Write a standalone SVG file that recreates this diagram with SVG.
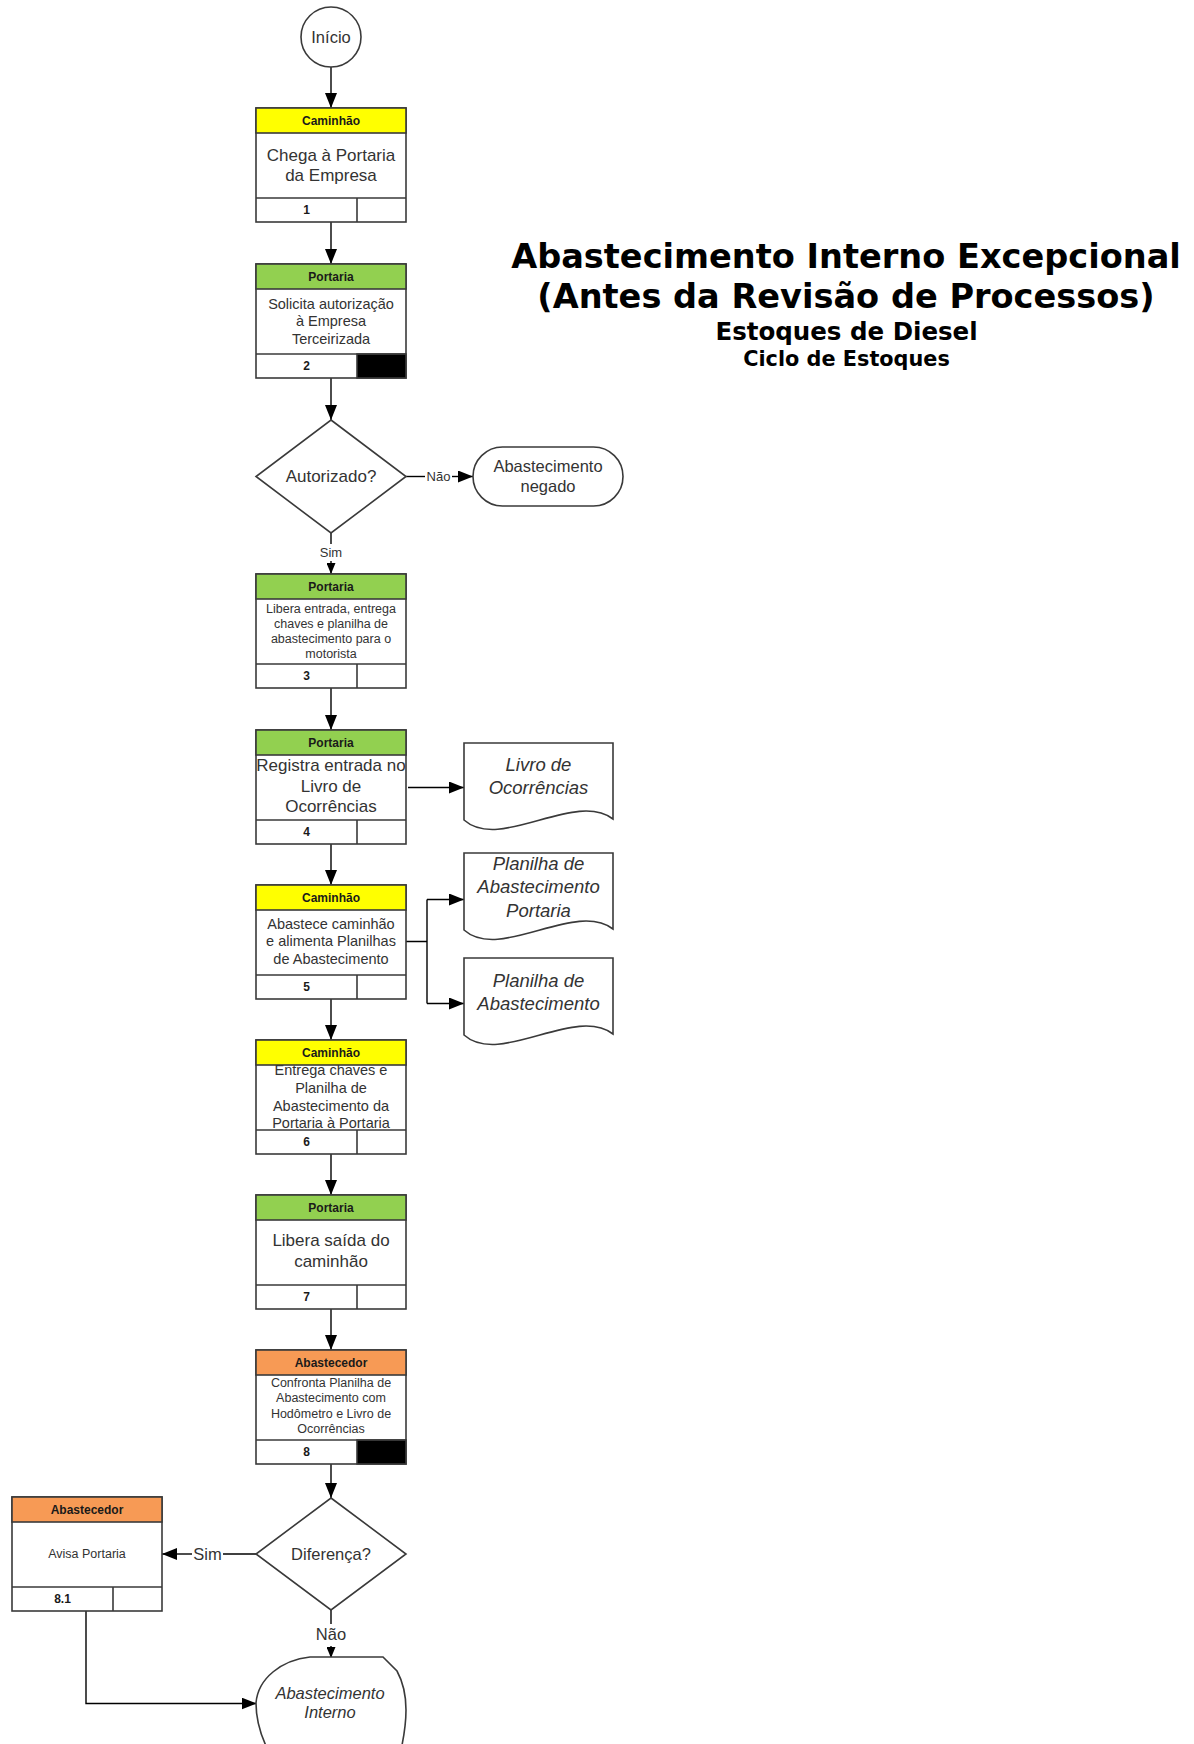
<svg xmlns="http://www.w3.org/2000/svg" width="1194" height="1744" viewBox="0 0 1194 1744">
<defs>
<style>
text{font-family:"Liberation Sans",Arial,sans-serif;fill:#333;text-anchor:middle;dominant-baseline:central}
.box{fill:#fff;stroke:#3a3a3a;stroke-width:1.6}
.hy{fill:#FFFF00;stroke:#3a3a3a;stroke-width:1.6}
.hg{fill:#92D050;stroke:#3a3a3a;stroke-width:1.6}
.ho{fill:#F79A55;stroke:#3a3a3a;stroke-width:1.6}
.ln{stroke:#3a3a3a;stroke-width:1.6;fill:none}
.blk{fill:#000;stroke:#3a3a3a;stroke-width:1.6}
.ht{font-weight:bold;font-size:12px;fill:#1a1a1a}
.num{font-weight:bold;font-size:12px;fill:#1a1a1a}
.t17{font-size:17px}
.t165{font-size:16.5px}
.t145{font-size:14.5px}
.t125{font-size:12.5px}
.doc{font-size:18.5px;font-style:italic}
.lbl{font-size:13px}
.lbl2{font-size:16.5px}
.con{stroke:#000;stroke-width:1.4;fill:none}
.arr{marker-end:url(#a)}
.arrs{marker-end:url(#s)}
.title{font-family:"DejaVu Sans",Verdana,sans-serif;font-weight:bold;fill:#000}
</style>
<marker id="a" viewBox="0 0 15 12" markerWidth="15" markerHeight="12" refX="15" refY="6" orient="auto" markerUnits="userSpaceOnUse"><path d="M0,0 L15,6 L0,12 Z" fill="#000"/></marker>
<marker id="s" viewBox="0 0 11 9" markerWidth="11" markerHeight="9" refX="11" refY="4.5" orient="auto" markerUnits="userSpaceOnUse"><path d="M0,0 L11,4.5 L0,9 Z" fill="#000"/></marker>
</defs>
<rect width="1194" height="1744" fill="#fff"/>

<g id="title">
<text class="title" x="846" y="256" font-size="33.6">Abastecimento Interno Excepcional</text>
<text class="title" x="846" y="296" font-size="33.6">(Antes da Revisão de Processos)</text>
<text class="title" x="846.5" y="331" font-size="24.5">Estoques de Diesel</text>
<text class="title" x="846.5" y="359" font-size="20.8">Ciclo de Estoques</text>
</g>

<g id="connectors">
<line class="con arr" x1="331" y1="67" x2="331" y2="108"/>
<line class="con arr" x1="331" y1="222" x2="331" y2="264"/>
<line class="con arr" x1="331" y1="378" x2="331" y2="420"/>
<line class="con" x1="405.5" y1="476.5" x2="425" y2="476.5"/>
<text class="lbl" x="438.5" y="476.5">Não</text>
<line class="con arr" x1="452" y1="476.5" x2="473" y2="476.5"/>
<line class="con" x1="331" y1="533" x2="331" y2="544"/>
<text class="lbl" x="331" y="552.5">Sim</text>
<line class="con arrs" x1="331" y1="561" x2="331" y2="574"/>
<line class="con arr" x1="331" y1="688" x2="331" y2="730"/>
<line class="con arr" x1="408" y1="787.5" x2="464" y2="787.5"/>
<line class="con arr" x1="331" y1="844" x2="331" y2="885"/>
<path class="con" d="M406,941.5 H427 M427,899.5 V1003.5"/>
<line class="con arr" x1="427" y1="899.5" x2="464" y2="899.5"/>
<line class="con arr" x1="427" y1="1003.5" x2="464" y2="1003.5"/>
<line class="con arr" x1="331" y1="999" x2="331" y2="1040"/>
<line class="con arr" x1="331" y1="1154" x2="331" y2="1195"/>
<line class="con arr" x1="331" y1="1309" x2="331" y2="1350"/>
<line class="con arr" x1="331" y1="1464" x2="331" y2="1498"/>
<line class="con" x1="256" y1="1554" x2="223" y2="1554"/>
<text class="lbl2" x="207.5" y="1554">Sim</text>
<line class="con arr" x1="192" y1="1554" x2="162" y2="1554"/>
<line class="con" x1="331" y1="1610" x2="331" y2="1624"/>
<text class="lbl2" x="331" y="1634">Não</text>
<line class="con arrs" x1="331" y1="1646" x2="331" y2="1658"/>
<path class="con arr" d="M86,1611 V1703.5 H256.5"/>
</g>

<g id="n-start">
<circle cx="331" cy="37" r="30" class="box"/>
<text class="t165" x="331" y="37">Início</text>
</g>

<g id="n1">
<rect x="256" y="108" width="150" height="114" class="box"/>
<text class="t17" x="331" y="155">Chega à Portaria</text>
<text class="t17" x="331" y="175">da Empresa</text>
<rect x="256" y="108" width="150" height="25" class="hy"/>
<text class="ht" x="331" y="120.5">Caminhão</text>
<path class="ln" d="M256,198 H406 M357,198 V222"/>
<text class="num" x="306.5" y="210">1</text>
</g>

<g id="n2">
<rect x="256" y="264" width="150" height="114" class="box"/>
<text class="t145" x="331" y="303.5">Solicita autorização</text>
<text class="t145" x="331" y="321">à Empresa</text>
<text class="t145" x="331" y="338.5">Terceirizada</text>
<rect x="256" y="264" width="150" height="25" class="hg"/>
<text class="ht" x="331" y="276.5">Portaria</text>
<rect x="357" y="354" width="49" height="24" class="blk"/>
<path class="ln" d="M256,354 H406"/>
<text class="num" x="306.5" y="366">2</text>
</g>

<g id="d1">
<polygon points="331,420 406,476.5 331,533 256,476.5" class="box"/>
<text class="t17" x="331" y="476.5">Autorizado?</text>
</g>

<g id="t-negado">
<rect x="473" y="447" width="150" height="59" rx="29.5" ry="29.5" class="box"/>
<text class="t165" x="548" y="466">Abastecimento</text>
<text class="t165" x="548" y="486">negado</text>
</g>

<g id="n3">
<rect x="256" y="574" width="150" height="114" class="box"/>
<text class="t125" x="331" y="608.5">Libera entrada, entrega</text>
<text class="t125" x="331" y="623.8">chaves e planilha de</text>
<text class="t125" x="331" y="639">abastecimento para o</text>
<text class="t125" x="331" y="654">motorista</text>
<rect x="256" y="574" width="150" height="25" class="hg"/>
<text class="ht" x="331" y="586.5">Portaria</text>
<path class="ln" d="M256,664 H406 M357,664 V688"/>
<text class="num" x="306.5" y="676">3</text>
</g>

<g id="n4">
<rect x="256" y="730" width="150" height="114" class="box"/>
<text class="t17" x="331" y="765">Registra entrada no</text>
<text class="t17" x="331" y="786">Livro de</text>
<text class="t17" x="331" y="806.5">Ocorrências</text>
<rect x="256" y="730" width="150" height="25" class="hg"/>
<text class="ht" x="331" y="742.5">Portaria</text>
<path class="ln" d="M256,820 H406 M357,820 V844"/>
<text class="num" x="306.5" y="832">4</text>
</g>

<g id="doc-livro">
<path class="box" d="M464,743 H613 V819 C575,790 500,852 464,820 Z"/>
<text class="doc" x="538.5" y="764.5">Livro de</text>
<text class="doc" x="538.5" y="787">Ocorrências</text>
</g>

<g id="n5">
<rect x="256" y="885" width="150" height="114" class="box"/>
<text class="t145" x="331" y="923.5">Abastece caminhão</text>
<text class="t145" x="331" y="941">e alimenta Planilhas</text>
<text class="t145" x="331" y="959">de Abastecimento</text>
<rect x="256" y="885" width="150" height="25" class="hy"/>
<text class="ht" x="331" y="897.5">Caminhão</text>
<path class="ln" d="M256,975 H406 M357,975 V999"/>
<text class="num" x="306.5" y="987">5</text>
</g>

<g id="doc-pa-portaria">
<path class="box" d="M464,853 H613 V929 C575,900 500,962 464,930 Z"/>
<text class="doc" x="538.5" y="863">Planilha de</text>
<text class="doc" x="538.5" y="886.5">Abastecimento</text>
<text class="doc" x="538.5" y="910">Portaria</text>
</g>

<g id="doc-pa">
<path class="box" d="M464,958 H613 V1034 C575,1005 500,1067 464,1035 Z"/>
<text class="doc" x="538.5" y="980">Planilha de</text>
<text class="doc" x="538.5" y="1003">Abastecimento</text>
</g>

<g id="n6">
<rect x="256" y="1040" width="150" height="114" class="box"/>
<text class="t145" x="331" y="1069.5">Entrega chaves e</text>
<text class="t145" x="331" y="1087.5">Planilha de</text>
<text class="t145" x="331" y="1105.5">Abastecimento da</text>
<text class="t145" x="331" y="1123">Portaria à Portaria</text>
<rect x="256" y="1040" width="150" height="25" class="hy"/>
<text class="ht" x="331" y="1052.5">Caminhão</text>
<path class="ln" d="M256,1130 H406 M357,1130 V1154"/>
<text class="num" x="306.5" y="1142">6</text>
</g>

<g id="n7">
<rect x="256" y="1195" width="150" height="114" class="box"/>
<text class="t17" x="331" y="1240">Libera saída do</text>
<text class="t17" x="331" y="1261">caminhão</text>
<rect x="256" y="1195" width="150" height="25" class="hg"/>
<text class="ht" x="331" y="1207.5">Portaria</text>
<path class="ln" d="M256,1285 H406 M357,1285 V1309"/>
<text class="num" x="306.5" y="1297">7</text>
</g>

<g id="n8">
<rect x="256" y="1350" width="150" height="114" class="box"/>
<text class="t125" x="331" y="1383">Confronta Planilha de</text>
<text class="t125" x="331" y="1398.3">Abastecimento com</text>
<text class="t125" x="331" y="1413.6">Hodômetro e Livro de</text>
<text class="t125" x="331" y="1429">Ocorrências</text>
<rect x="256" y="1350" width="150" height="25" class="ho"/>
<text class="ht" x="331" y="1362.5">Abastecedor</text>
<rect x="357" y="1440" width="49" height="24" class="blk"/>
<path class="ln" d="M256,1440 H406"/>
<text class="num" x="306.5" y="1452">8</text>
</g>

<g id="d2">
<polygon points="331,1498 406,1554 331,1610 256,1554" class="box"/>
<text class="t165" x="331" y="1554">Diferença?</text>
</g>

<g id="n81">
<rect x="12" y="1497" width="150" height="114" class="box"/>
<text class="t125" x="87" y="1553.5">Avisa Portaria</text>
<rect x="12" y="1497" width="150" height="25" class="ho"/>
<text class="ht" x="87" y="1509.5">Abastecedor</text>
<path class="ln" d="M12,1587 H162 M113,1587 V1611"/>
<text class="num" x="62.5" y="1599">8.1</text>
</g>

<g id="t-end">
<path class="box" d="M310,1657 H383 L397,1671 C403,1682 406,1695 406,1710 C406,1724 404,1736 401,1750 H268 C261,1736 256,1720 256,1703 C258,1678 282,1660 310,1657 Z"/>
<text class="t165" x="330" y="1693" font-style="italic">Abastecimento</text>
<text class="t165" x="330" y="1711.5" font-style="italic">Interno</text>
</g>
</svg>
